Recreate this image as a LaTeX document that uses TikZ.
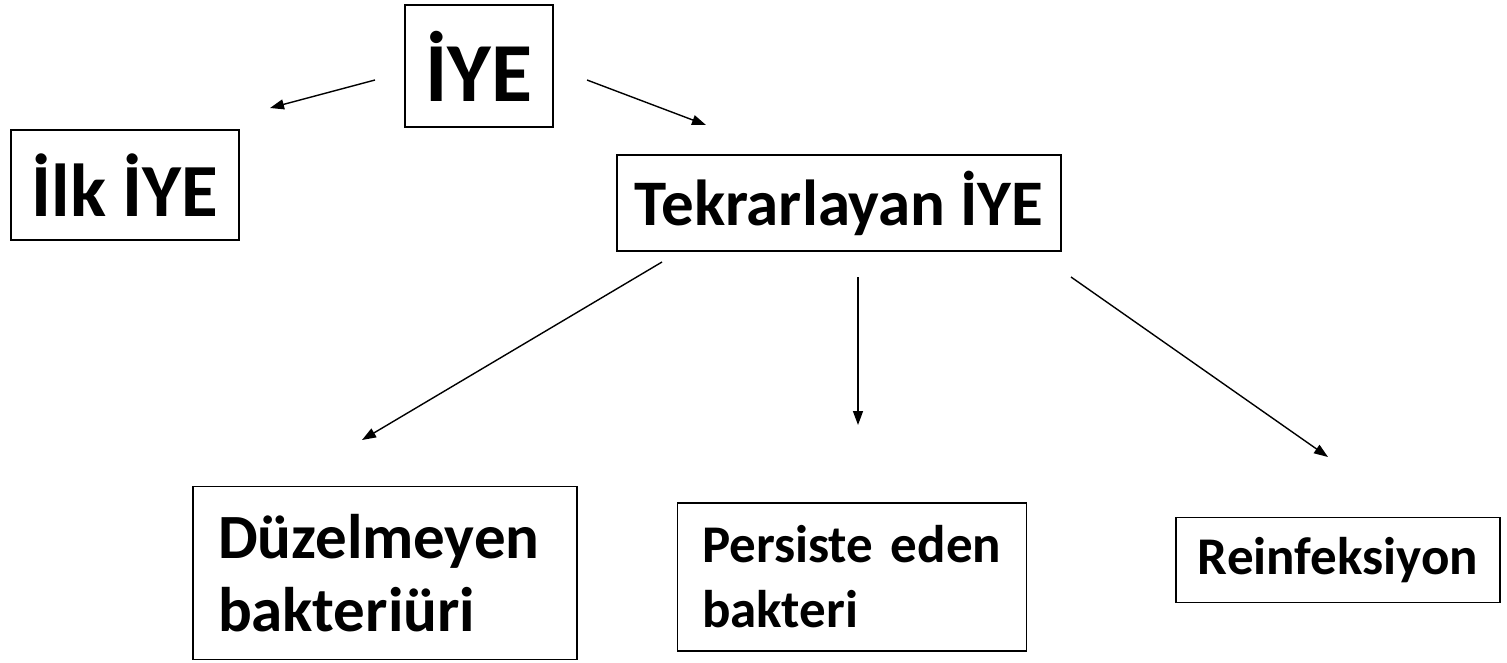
\documentclass[tikz,border=0pt]{standalone}
\usepackage{fontspec}
\setmainfont{Carlito}
\usetikzlibrary{arrows.meta}
\begin{document}
\begin{tikzpicture}[x=1pt,y=-1pt,
  box/.style={draw=black,line width=1.5pt,rectangle,inner sep=0pt,font=\bfseries},
  arr/.style={line width=1.4pt,-{Triangle[length=14pt,width=10pt]}}]
\useasboundingbox (0,0) rectangle (1507,662);
\node[box,minimum width=148pt,minimum height=122pt,font=\bfseries\fontsize{84}{86}\selectfont] (iye) at (479,66) {İYE};
\node[box,minimum width=228pt,minimum height=110pt,font=\bfseries\fontsize{75}{78}\selectfont] (ilk) at (125,185) {İlk İYE};
\node[box,minimum width=444pt,minimum height=96pt,font=\bfseries\fontsize{65}{68}\selectfont] (tek) at (839,203) {Tekrarlayan İYE};
\node[box,minimum width=384pt,minimum height=173pt,text width=334pt,align=left,font=\bfseries\fontsize{63}{73}\selectfont] (duz) at (385,573) {Düzelmeyen\\bakteriüri};
\node[box,minimum width=349pt,minimum height=148pt,text width=324pt,align=left,font=\bfseries\fontsize{53}{65}\selectfont] (per) at (852,577) {\hspace*{12pt}Persiste eden\\\hspace*{12pt}bakteri};
\node[box,minimum width=324pt,minimum height=85pt,font=\bfseries\fontsize{53}{60}\selectfont] (rei) at (1338,560) {Reinfeksiyon};
\coordinate (a1s) at (375,80); \coordinate (a1e) at (270,108);
\coordinate (a2s) at (587,80); \coordinate (a2e) at (706,125);
\coordinate (a3s) at (662,262); \coordinate (a3e) at (362,440);
\coordinate (a4s) at (858,277); \coordinate (a4e) at (858,425);
\coordinate (a5s) at (1071,277); \coordinate (a5e) at (1328,457);
\draw[arr] (a1s) -- (a1e);
\draw[arr] (a2s) -- (a2e);
\draw[arr] (a3s) -- (a3e);
\draw[arr] (a4s) -- (a4e);
\draw[arr] (a5s) -- (a5e);
\end{tikzpicture}
\end{document}
